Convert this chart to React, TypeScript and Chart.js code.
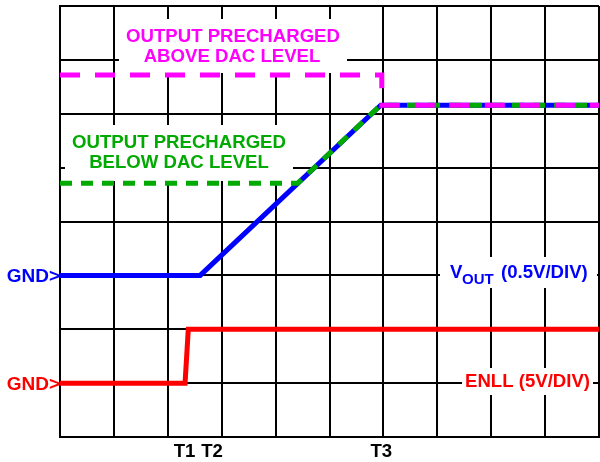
import React, { useEffect, useRef } from "react";
import { Chart, registerables } from "chart.js";

Chart.register(...registerables);

// Time axis in divisions (0..10), amplitude in divisions (0..8)
const voutX = [0, 2.6, 5.95, 10];
const voutY = [3, 3, 6.16, 6.16];
const aboveX = [0, 5.97, 5.97, 10];
const aboveY = [6.72, 6.72, 6.16, 6.16];
const belowX = [0, 4.41, 5.95, 10];
const belowY = [4.71, 4.71, 6.16, 6.16];
const enllX = [0, 2.32, 2.38, 10];
const enllY = [1, 1, 2, 2];

const timeLabels = ["T1", "T2", "T3"];
const timeLabelX = [2.31, 2.82, 5.96];
const gndLabelY = [3, 1];

const BLUE = "#0000ff";
const RED = "#ff0000";
const MAGENTA = "#ff00ff";
const GREEN = "#00aa00";
const FONT = "bold 18.6px 'Liberation Sans', Arial, sans-serif";
const GNDFONT = "bold 19px 'Liberation Sans', Arial, sans-serif";
const SUBFONT = "bold 15px 'Liberation Sans', Arial, sans-serif";

const pts = (xs: number[], ys: number[]) => xs.map((x, i) => ({ x, y: ys[i] }));

const annotPlugin = {
  id: "annot",
  beforeDatasetsDraw(chart: any) {
    const ctx = chart.ctx;
    ctx.save();
    ctx.fillStyle = "#ffffff";
    // white label backgrounds
    ctx.fillRect(119, 19, 228, 54);
    ctx.fillRect(65, 125, 228, 56);
    ctx.fillRect(440, 257, 157, 31);
    ctx.fillRect(462, 368, 131, 27);
    ctx.restore();
  },
  afterDatasetsDraw(chart: any) {
    const ctx = chart.ctx;
    const xs = chart.scales.x;
    const ys = chart.scales.y;
    ctx.save();
    ctx.font = FONT;
    ctx.textBaseline = "alphabetic";
    // precharge notes
    ctx.textAlign = "center";
    ctx.fillStyle = MAGENTA;
    ctx.fillText("OUTPUT PRECHARGED", 233, 42);
    ctx.fillText("ABOVE DAC LEVEL", 232, 62);
    ctx.fillStyle = GREEN;
    ctx.fillText("OUTPUT PRECHARGED", 179, 148);
    ctx.fillText("BELOW DAC LEVEL", 179, 168);
    // channel labels
    ctx.textAlign = "left";
    ctx.fillStyle = BLUE;
    ctx.fillText("V", 450, 278);
    ctx.font = SUBFONT;
    ctx.fillText("OUT", 462, 284);
    ctx.font = FONT;
    ctx.fillText("(0.5V/DIV)", 501, 278);
    ctx.fillStyle = RED;
    ctx.fillText("ENLL (5V/DIV)", 465, 387);
    // GND markers
    ctx.font = GNDFONT;
    ctx.textAlign = "right";
    ctx.fillStyle = BLUE;
    ctx.fillText("GND>", xs.left, ys.getPixelForValue(gndLabelY[0]) + 7);
    ctx.fillStyle = RED;
    ctx.fillText("GND>", xs.left, ys.getPixelForValue(gndLabelY[1]) + 7);
    // time labels
    ctx.font = FONT;
    ctx.textAlign = "center";
    ctx.fillStyle = "#000000";
    timeLabels.forEach((t, i) => {
      ctx.fillText(t, xs.getPixelForValue(timeLabelX[i]), 457);
    });
    ctx.restore();
  },
};

export default function App() {
  const ref = useRef<HTMLCanvasElement | null>(null);
  useEffect(() => {
    if (!ref.current) return;
    const chart = new Chart(ref.current, {
      type: "scatter",
      data: {
        datasets: [
          {
            data: pts(aboveX, aboveY),
            showLine: true,
            borderColor: MAGENTA,
            borderWidth: 5,
            borderDash: [20, 15],
            borderCapStyle: "butt",
            borderJoinStyle: "miter",
            pointRadius: 0,
            tension: 0,
          },
          {
            data: pts(belowX, belowY),
            showLine: true,
            borderColor: GREEN,
            borderWidth: 5,
            borderDash: [12, 9],
            borderCapStyle: "butt",
            borderJoinStyle: "miter",
            pointRadius: 0,
            tension: 0,
          },
          {
            data: pts(voutX, voutY),
            showLine: true,
            borderColor: BLUE,
            borderWidth: 5,
            borderJoinStyle: "miter",
            pointRadius: 0,
            tension: 0,
          },
          {
            data: pts(enllX, enllY),
            showLine: true,
            borderColor: RED,
            borderWidth: 5,
            borderJoinStyle: "miter",
            pointRadius: 0,
            tension: 0,
          },
        ],
      },
      options: {
        animation: false,
        responsive: false,
        events: [],
        layout: { padding: { left: 60, top: 6, right: 1, bottom: 25 } },
        plugins: { legend: { display: false }, tooltip: { enabled: false } },
        scales: {
          x: {
            type: "linear",
            min: 0,
            max: 10,
            ticks: { display: false, stepSize: 1 },
            grid: { color: "#000000", lineWidth: 2, drawTicks: false },
            border: { color: "#000000", width: 2 },
          },
          y: {
            type: "linear",
            min: 0,
            max: 8,
            ticks: { display: false, stepSize: 1 },
            grid: { color: "#000000", lineWidth: 2, drawTicks: false },
            border: { color: "#000000", width: 2 },
          },
        },
      },
      plugins: [annotPlugin],
    });
    return () => chart.destroy();
  }, []);
  return (
    <div style={{ position: "absolute", left: 0, top: 0, width: 600, height: 462, background: "#ffffff" }}>
      <canvas ref={ref} width={600} height={462} />
    </div>
  );
}
